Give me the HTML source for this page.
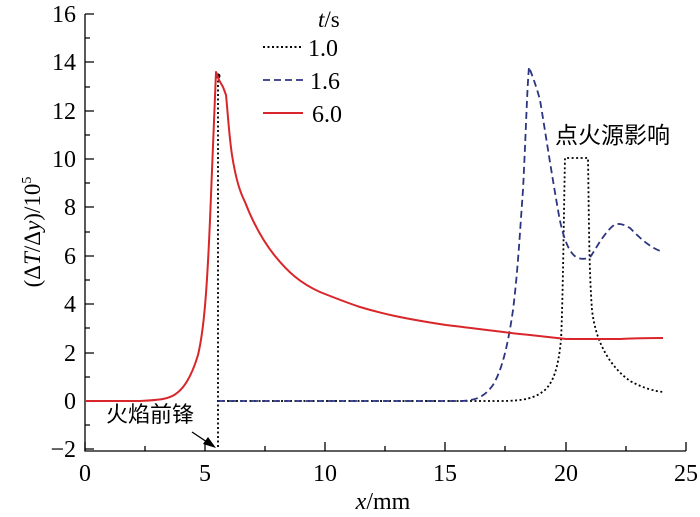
<!DOCTYPE html>
<html><head><meta charset="utf-8"><style>
body{margin:0;background:#fff}
svg{display:block}
</style></head><body>
<svg width="700" height="517" viewBox="0 0 700 517" xmlns="http://www.w3.org/2000/svg" font-family="Liberation Serif, DejaVu Serif, serif">
<g stroke="#000" stroke-width="1.3" fill="none">
<path d="M85,14 V451 H686"/>
<path d="M85,14h9M85,62h9M85,111h9M85,159h9M85,207h9M85,256h9M85,304h9M85,353h9M85,401h9M85,449h9"/>
<path d="M85,38h5M85,87h5M85,135h5M85,183h5M85,232h5M85,280h5M85,328h5M85,377h5M85,425h5"/>
<path d="M85,451v-9M205,451v-9M325,451v-9M445,451v-9M566,451v-9M686,451v-9"/>
<path d="M145,451v-5M265,451v-5M385,451v-5M505,451v-5M626,451v-5"/>
</g>
<g font-size="24" text-anchor="end" font-family="Liberation Serif, serif">
<text x="76" y="22">16</text><text x="76" y="70">14</text><text x="76" y="119">12</text>
<text x="76" y="167">10</text><text x="76" y="215">8</text><text x="76" y="264">6</text>
<text x="76" y="312">4</text><text x="76" y="361">2</text><text x="76" y="409">0</text>
<text x="76" y="457">−2</text>
</g>
<g font-size="24" text-anchor="middle" font-family="Liberation Serif, serif">
<text x="85" y="481">0</text><text x="205" y="481">5</text><text x="325" y="481">10</text>
<text x="445" y="481">15</text><text x="566" y="481">20</text><text x="686" y="481">25</text>
</g>
<text x="383" y="509" font-size="24" text-anchor="middle" font-family="Liberation Serif, serif"><tspan font-style="italic">x</tspan>/mm</text>
<text transform="translate(40,232) rotate(-90)" font-size="23" text-anchor="middle" font-family="Liberation Serif, serif">(Δ<tspan font-style="italic">T</tspan>/Δ<tspan font-style="italic">y</tspan>)/10<tspan font-size="14" dy="-9">5</tspan></text>
<text x="318" y="27" font-size="23" font-family="Liberation Serif, serif"><tspan font-style="italic">t</tspan>/s</text>
<line x1="263" y1="47" x2="303" y2="47" stroke="#000" stroke-width="2" stroke-dasharray="2,2.5"/>
<text x="308" y="56" font-size="24" font-family="Liberation Serif, serif">1.0</text>
<line x1="263" y1="80" x2="303" y2="80" stroke="#2b3580" stroke-width="1.8" stroke-dasharray="7,4"/>
<text x="310" y="89" font-size="24" font-family="Liberation Serif, serif">1.6</text>
<line x1="263" y1="113" x2="303" y2="113" stroke="#d8262a" stroke-width="2"/>
<text x="312" y="122" font-size="24" font-family="Liberation Serif, serif">6.0</text>
<g fill="none" stroke="#000" stroke-width="1.8" stroke-dasharray="2,2.5">
<path d="M218,76 V447"/>
<path d="M218,401 H500 C525,401 535,398 545,390 C553,382 558,370 561,340 C563,300 564,200 565,158 H588 C589,220 589,270 592,310 C596,345 612,368 630,381 C645,389 655,391 663,392"/>
</g>
<circle cx="218" cy="76" r="2.5" fill="#000"/>
<path fill="none" stroke="#2b3580" stroke-width="1.8" stroke-dasharray="7,4" d="M218,401 H462 C478,400 485,396 493,385 C502,370 508,345 513,310 C518,270 520,230 523,190 C526,130 527,90 529,67 C532,75 536,85 540,100 C545,130 551,170 558,210 C563,240 570,255 578,258 C585,260 588,258 591,256 C598,245 605,232 614,225 C620,222 626,226 630,228 C640,238 650,248 663,252"/>
<path fill="none" stroke="#d8262a" stroke-width="2" stroke-linejoin="round" d="M85,401 H140 C160,400 170,399 177,393 C185,387 192,375 198,355 C204,330 207,290 210,220 C212,160 214,110 216,72 L219,80 L223,87 L226,95 C228,115 229,135 232,155 C236,180 240,192 245,202 C252,220 262,240 275,256 C288,272 300,283 320,292 C335,298 345,302 360,307 C380,313 400,318 446,325 C480,329 500,332 530,335 C548,337 558,338 566,339 C585,339 600,339 620,339 C640,338 655,338 663,338"/>
<text x="555" y="143" font-size="23" font-family="Noto Sans CJK SC, sans-serif">点火源影响</text>
<text x="106" y="422" font-size="22" font-family="Noto Sans CJK SC, sans-serif">火焰前锋</text>
<line x1="192" y1="432" x2="210" y2="444" stroke="#000" stroke-width="1.3"/>
<path d="M216,448 L203,444 L208,437 Z" fill="#000"/>
</svg>
</body></html>
